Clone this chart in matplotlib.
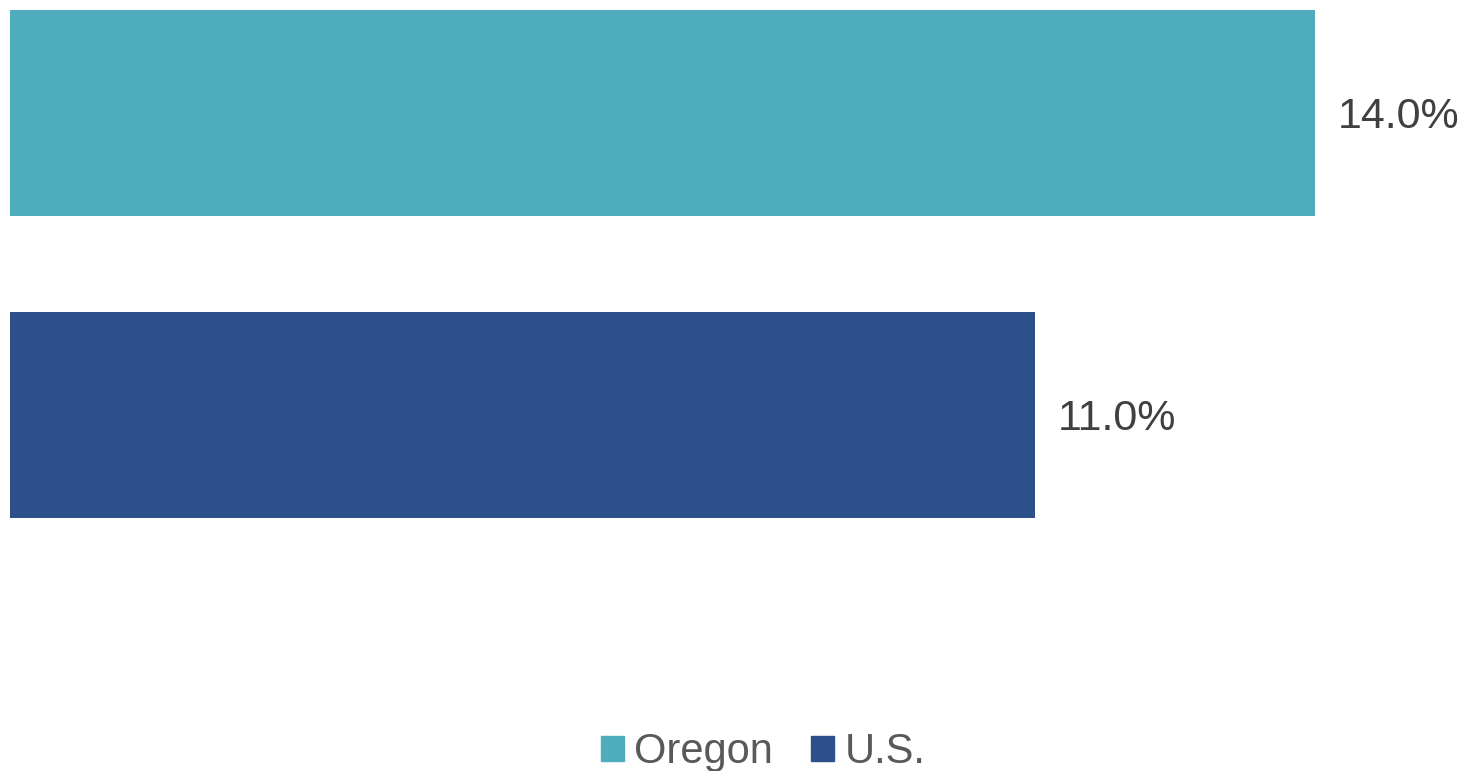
import matplotlib.pyplot as plt
from matplotlib.patches import Patch

categories = ['Oregon', 'U.S.']
values = [14.0, 11.0]
colors = ['#4FACBD', '#2D508A']

W, H = 1464, 771
fig = plt.figure(figsize=(W/100, H/100), dpi=100)
ax = fig.add_axes([10/W, (H-700)/H, (W-10)/W, 700/H])

ypos = list(range(len(values)))
ax.barh(ypos, values, height=206/302, color=colors)

for y, v in zip(ypos, values):
    ax.text(v + 23/93.2, y + 4/302, f'{v:.1f}%', va='center', ha='left',
            fontsize=31, color='#404040', family='Liberation Sans')

ax.set_xlim(0, (W-10)/93.2)
ax.set_ylim(1 + (700-415)/302, -113/302)
ax.axis('off')

handles = [Patch(color=c, label=l) for c, l in zip(colors, categories)]
fig.legend(handles=handles, loc='center', bbox_to_anchor=(763/W, 1-752/H), ncol=2,
           frameon=False, borderpad=0, handlelength=0.55, handleheight=0.55,
           handletextpad=0.26, columnspacing=0.9,
           prop={'family': 'Liberation Sans', 'size': 30}, labelcolor='#595959')

fig.savefig('out.png', dpi=100)
